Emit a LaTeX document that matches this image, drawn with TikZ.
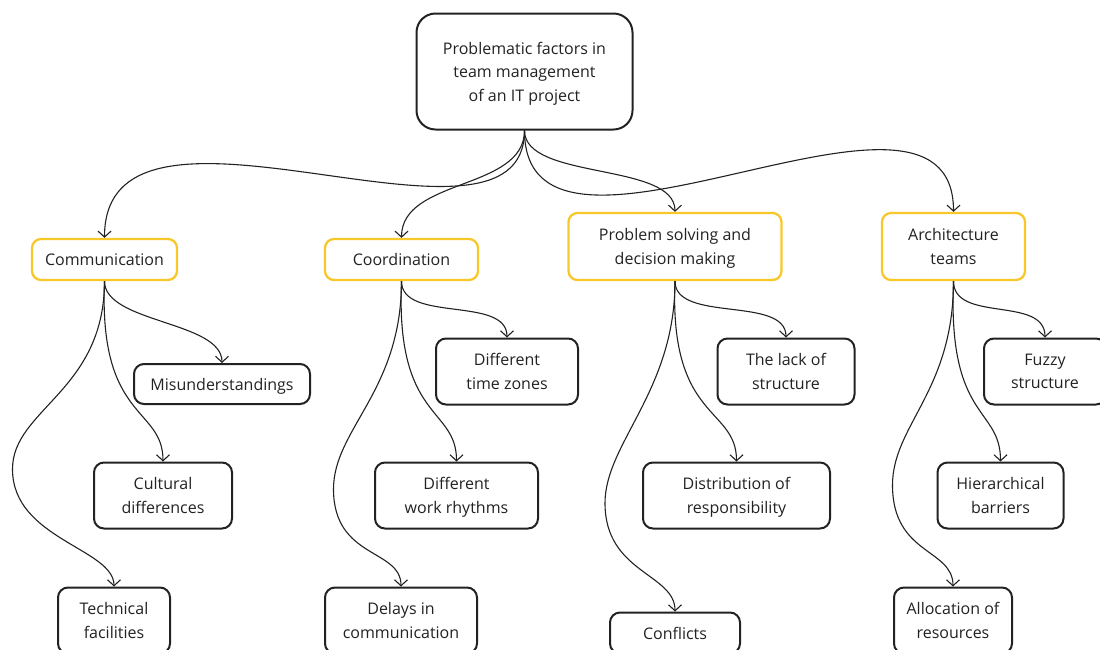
\documentclass[tikz,border=0pt]{standalone}
\usepackage{fontspec}
\setmainfont{Open Sans}
\usetikzlibrary{arrows.meta}

\definecolor{inkgray}{HTML}{222222}
\definecolor{topicyellow}{HTML}{F8C72A}

\begin{document}
\begin{tikzpicture}[x=1pt, y=-1pt,
		box/.style={draw=inkgray, line width=2pt, rounded corners=10pt, align=center, text=inkgray,
			font=\fontsize{16pt}{23.5pt}\selectfont, inner sep=0pt, text depth=0pt},
		rootbox/.style={box, rounded corners=19pt},
		topic/.style={box, draw=topicyellow, line width=2.3pt, rounded corners=9pt},
		leaf/.style={box},
		link/.style={draw=inkgray, line width=1.1pt, -{Straight Barb[length=6pt,width=13pt]}}]

	\clip (0,0) rectangle (1100,649);

	\pgfmathsetmacro{\rowone}{371.5}
	\pgfmathsetmacro{\rowtwo}{495.5}
	\pgfmathsetmacro{\rowthree}{620.5}

	% root
	\node[rootbox, minimum width=216pt, minimum height=116pt] (root) at (524.5,71.5)
		{Problematic factors in\\team management\\of an IT project};

	% topics
	\node[topic, minimum width=145pt, minimum height=41pt] (comm) at (104.5,259.5) {Communication};
	\node[topic, minimum width=153pt, minimum height=41pt] (coord) at (401.5,259.5) {Coordination};
	\node[topic, minimum width=213pt, minimum height=67pt] (solve) at (675,246.5) {Problem solving and\\decision making};
	\node[topic, minimum width=143pt, minimum height=67pt] (arch) at (953.5,246.5) {Architecture\\teams};

	% first row
	\node[leaf, minimum width=176pt, minimum height=40pt] (misund) at (222,384) {Misunderstandings};
	\node[leaf, minimum width=142pt, minimum height=66pt] (zones) at (507,\rowone) {Different\\time zones};
	\node[leaf, minimum width=137pt, minimum height=66pt] (lack) at (786,\rowone) {The lack of\\structure};
	\node[leaf, minimum width=122pt, minimum height=66pt] (fuzzy) at (1045,\rowone) {Fuzzy\\structure};

	% second row
	\node[leaf, minimum width=138pt, minimum height=66pt] (cult) at (163,\rowtwo) {Cultural\\differences};
	\node[leaf, minimum width=163pt, minimum height=66pt] (rhythm) at (456.5,\rowtwo) {Different\\work rhythms};
	\node[leaf, minimum width=187pt, minimum height=66pt] (resp) at (736.5,\rowtwo) {Distribution of\\responsibility};
	\node[leaf, minimum width=126pt, minimum height=66pt] (barrier) at (1000.5,\rowtwo) {Hierarchical\\barriers};

	% third row
	\node[leaf, minimum width=112pt, minimum height=66pt] (tech) at (114,\rowthree) {Technical\\facilities};
	\node[leaf, minimum width=152pt, minimum height=66pt] (delay) at (401,\rowthree) {Delays in\\communication};
	\node[leaf, minimum width=130pt, minimum height=41pt] (conflict) at (675,633) {Conflicts};
	\node[leaf, minimum width=118pt, minimum height=66pt] (alloc) at (953,\rowthree) {Allocation of\\resources};

	% root to topics
	\draw[link] (root.south) .. controls +(0,151) and +(0,-179) .. (comm.north);
	\draw[link] (root.south) .. controls +(0,60) and +(0,-60) .. (coord.north);
	\draw[link] (root.south) .. controls +(0,50) and +(0,-50) .. (solve.north);
	\draw[link] (root.south) .. controls +(0,181) and +(0,-176) .. (arch.north);

	% topics to first row
	\foreach \src/\dst in {comm/misund, coord/zones, solve/lack, arch/fuzzy}
		\draw[link] (\src.south) .. controls +(0,42) and +(0,-42) .. (\dst.north);

	% topics to second row
	\foreach \src/\dst in {comm/cult, coord/rhythm, solve/resp, arch/barrier}
		\draw[link] (\src.south) .. controls +(-6,140) and +(0,-55) .. (\dst.north);

	% topics to third row, swinging out to the left
	\foreach \src/\dst/\dx/\dy in {comm/tech/-92/188, coord/delay/-68/208, solve/conflict/-70/222, arch/alloc/-61/204}
		\draw[link] (\src.south) .. controls +(0,110) and +(0,-60) .. ++(\dx,\dy)
			.. controls +(0,70) and +(0,-38) .. (\dst.north);

\end{tikzpicture}
\end{document}
